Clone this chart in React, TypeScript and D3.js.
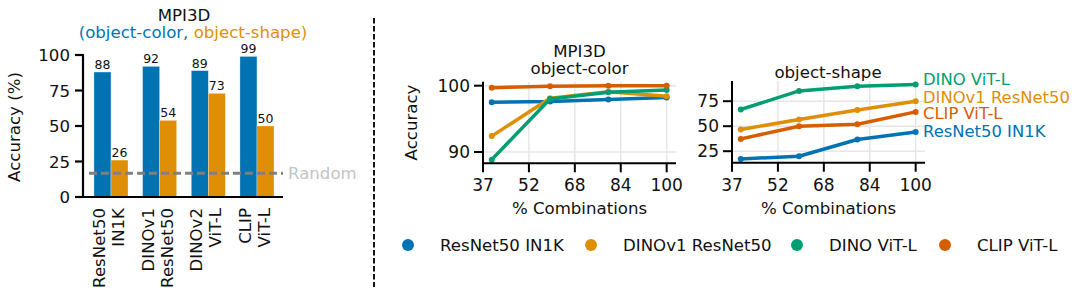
import React from "react";
import * as d3 from "d3";

const FONT = "DejaVu Sans, sans-serif";
const BLUE = "#0173B2";
const ORANGE = "#DE8F05";
const GREEN = "#029E73";
const RED = "#D55E00";

// Bar chart data
const barModels = [["ResNet50", "IN1K"], ["DINOv1", "ResNet50"], ["DINOv2", "ViT-L"], ["CLIP", "ViT-L"]];
const colorAcc = [88, 92, 89, 99];
const shapeAcc = [26, 54, 73, 50];
const barTicks = [0, 25, 50, 75, 100];
const randomLevel = 100 / 6;

// Line chart data
const pctComb = [40, 60, 80, 100];
const xTickVals = [37, 52.75, 68.5, 84.25, 100];
const seriesNames = ["ResNet50 IN1K", "DINOv1 ResNet50", "DINO ViT-L", "CLIP ViT-L"];
const seriesColors = [BLUE, ORANGE, GREEN, RED];
const colorRes = [97.5, 97.6, 97.9, 98.2];
const colorDinov1 = [92.4, 98.1, 99.1, 98.4];
const colorDino = [88.85, 98.0, 99.0, 99.35];
const colorClip = [99.7, 99.9, 100.0, 100.0];
const shapeRes = [17.3, 20, 36.7, 44.3];
const shapeDinov1 = [46.7, 56.7, 66.3, 75];
const shapeDino = [66.7, 85.3, 90, 91.7];
const shapeClip = [37.3, 50, 52, 64.3];
const colorTicks = [90, 100];
const shapeTicks = [25, 50, 75];

function LinePanel({ x0, x1, yTop, yBot, yDomain, yTicks, series, showYLabel }: any) {
  const x = d3.scaleLinear().domain([37, 103.2]).range([x0, x1]);
  const y = d3.scaleLinear().domain(yDomain).range([yBot, yTop]);
  const line = d3.line<number>().x((_, i) => x(pctComb[i])).y((d) => y(d));
  return (
    <g>
      {xTickVals.map((t) => (
        <line key={"gx" + t} x1={x(t)} x2={x(t)} y1={yTop} y2={yBot} stroke="#e6e6e6" strokeWidth={1.5} />
      ))}
      {yTicks.map((t: number) => (
        <line key={"gy" + t} x1={x0} x2={x1} y1={y(t)} y2={y(t)} stroke="#e6e6e6" strokeWidth={1.5} />
      ))}
      {series.map((s: any, k: number) => (
        <g key={k}>
          <path d={line(s.values) || ""} fill="none" stroke={s.color} strokeWidth={3.5} strokeLinejoin="round" />
          {s.values.map((v: number, i: number) => (
            <circle key={i} cx={x(pctComb[i])} cy={y(v)} r={3} fill={s.color} />
          ))}
        </g>
      ))}
      <line x1={x0} x2={x0} y1={yTop} y2={yBot} stroke="#000" strokeWidth={2} />
      <line x1={x0 - 1} x2={x1} y1={yBot} y2={yBot} stroke="#000" strokeWidth={2} />
      {xTickVals.map((t) => (
        <g key={"tx" + t}>
          <line x1={x(t)} x2={x(t)} y1={yBot} y2={yBot + 9} stroke="#000" strokeWidth={2} />
          <text x={x(t)} y={yBot + 28} textAnchor="middle" fontSize={17} fontFamily={FONT} fill="#111">
            {Math.trunc(t)}
          </text>
        </g>
      ))}
      {yTicks.map((t: number) => (
        <g key={"ty" + t}>
          <line x1={x0 - 9} x2={x0} y1={y(t)} y2={y(t)} stroke="#000" strokeWidth={2} />
          <text x={x0 - 13} y={y(t) + 6} textAnchor="end" fontSize={17} fontFamily={FONT} fill="#111">
            {t}
          </text>
        </g>
      ))}
      <text x={(x0 + x1) / 2} y={yBot + 51} textAnchor="middle" fontSize={16.6} fontFamily={FONT} fill="#111">
        % Combinations
      </text>
      {showYLabel && (
        <text transform={`translate(${x0 - 66},${(yTop + yBot) / 2}) rotate(-90)`} textAnchor="middle" fontSize={16.6} fontFamily={FONT} fill="#111">
          Accuracy
        </text>
      )}
    </g>
  );
}

export default function App() {
  // bar chart scales
  const bx = d3.scaleLinear().domain([-0.575, 3.535]).range([83, 283]);
  const by = d3.scaleLinear().domain([0, 100]).range([197, 55]);
  const bw = bx(0.35) - bx(0);

  const colorSeries = [colorRes, colorDinov1, colorDino, colorClip].map((v, i) => ({ values: v, color: seriesColors[i] }));
  const shapeSeries = [shapeRes, shapeDinov1, shapeDino, shapeClip].map((v, i) => ({ values: v, color: seriesColors[i] }));
  const endLabels = [
    { name: seriesNames[2], color: GREEN, y: 78.5 },
    { name: seriesNames[1], color: ORANGE, y: 96.5 },
    { name: seriesNames[3], color: RED, y: 113 },
    { name: seriesNames[0], color: BLUE, y: 131 },
  ];
  const legendX = [408, 591, 797, 945];

  return (
    <svg width={1080} height={300} style={{ position: "absolute", left: 0, top: 0, background: "#fff" }}>
      <rect width={1080} height={300} fill="#fff" />
      {/* Bar chart */}
      <text x={184} y={21} textAnchor="middle" fontSize={16.6} fontFamily={FONT} fill="#111">MPI3D</text>
      <text x={193} y={38} textAnchor="middle" fontSize={16.6} fontFamily={FONT}>
        <tspan fill={BLUE}>(object-color,</tspan>
        <tspan fill={ORANGE}> object-shape)</tspan>
      </text>
      {barModels.map((m, i) => (
        <g key={i}>
          <rect x={bx(i) - bw} y={by(colorAcc[i])} width={bw} height={by(0) - by(colorAcc[i])} fill={BLUE} stroke="#ffffff" strokeOpacity={0.5} strokeWidth={0.6} />
          <rect x={bx(i)} y={by(shapeAcc[i])} width={bw} height={by(0) - by(shapeAcc[i])} fill={ORANGE} stroke="#ffffff" strokeOpacity={0.5} strokeWidth={0.6} />
          <text x={bx(i) - bw / 2} y={by(colorAcc[i]) - 3} textAnchor="middle" fontSize={12.5} fontFamily={FONT} fill="#111">{colorAcc[i]}</text>
          <text x={bx(i) + bw / 2} y={by(shapeAcc[i]) - 3} textAnchor="middle" fontSize={12.5} fontFamily={FONT} fill="#111">{shapeAcc[i]}</text>
          <text transform={`translate(${bx(i) - 6},208) rotate(-90)`} textAnchor="end" fontSize={16.6} fontFamily={FONT} fill="#111">{m[0]}</text>
          <text transform={`translate(${bx(i) + 13},208) rotate(-90)`} textAnchor="end" fontSize={16.6} fontFamily={FONT} fill="#111">{m[1]}</text>
        </g>
      ))}
      <line x1={89} x2={283} y1={by(randomLevel)} y2={by(randomLevel)} stroke="#808080" strokeWidth={3} strokeDasharray="8,4" />
      <text x={288} y={by(randomLevel) + 6} fontSize={16.6} fontFamily={FONT} fill="#c4c4c4">Random</text>
      <line x1={83} x2={83} y1={by(100.7)} y2={by(0)} stroke="#000" strokeWidth={2.2} />
      <line x1={82} x2={283} y1={by(0)} y2={by(0)} stroke="#000" strokeWidth={2.2} />
      {barTicks.map((t) => (
        <g key={t}>
          <line x1={75} x2={83} y1={by(t)} y2={by(t)} stroke="#000" strokeWidth={2.2} />
          <text x={70} y={by(t) + 6} textAnchor="end" fontSize={16.6} fontFamily={FONT} fill="#111">{t}</text>
        </g>
      ))}
      <text transform={`translate(20,127) rotate(-90)`} textAnchor="middle" fontSize={16.6} fontFamily={FONT} fill="#111">Accuracy (%)</text>

      {/* separator */}
      <line x1={374} x2={374} y1={18} y2={287} stroke="#111" strokeWidth={2} strokeDasharray="5.5,2.5" />

      {/* line charts */}
      <text x={579.5} y={57} textAnchor="middle" fontSize={16.6} fontFamily={FONT} fill="#111">MPI3D</text>
      <text x={579.5} y={74} textAnchor="middle" fontSize={16.6} fontFamily={FONT} fill="#111">object-color</text>
      <LinePanel x0={483} x1={676} yTop={81.7} yBot={163.3} yDomain={[88.3, 100.6]} yTicks={colorTicks} series={colorSeries} showYLabel={true} />
      <text x={828} y={77.5} textAnchor="middle" fontSize={16.6} fontFamily={FONT} fill="#111">object-shape</text>
      <LinePanel x0={732} x1={925} yTop={81} yBot={162.7} yDomain={[13.5, 95.2]} yTicks={shapeTicks} series={shapeSeries} showYLabel={false} />
      {endLabels.map((l) => (
        <text key={l.name} x={923} y={l.y + 6} fontSize={16.4} fontFamily={FONT} fill={l.color}>{l.name}</text>
      ))}

      {/* legend */}
      {seriesNames.map((n, i) => (
        <g key={n}>
          <circle cx={legendX[i]} cy={245} r={6} fill={seriesColors[i]} />
          <text x={legendX[i] + 32} y={251} fontSize={16.6} fontFamily={FONT} fill="#111">{n}</text>
        </g>
      ))}
    </svg>
  );
}
